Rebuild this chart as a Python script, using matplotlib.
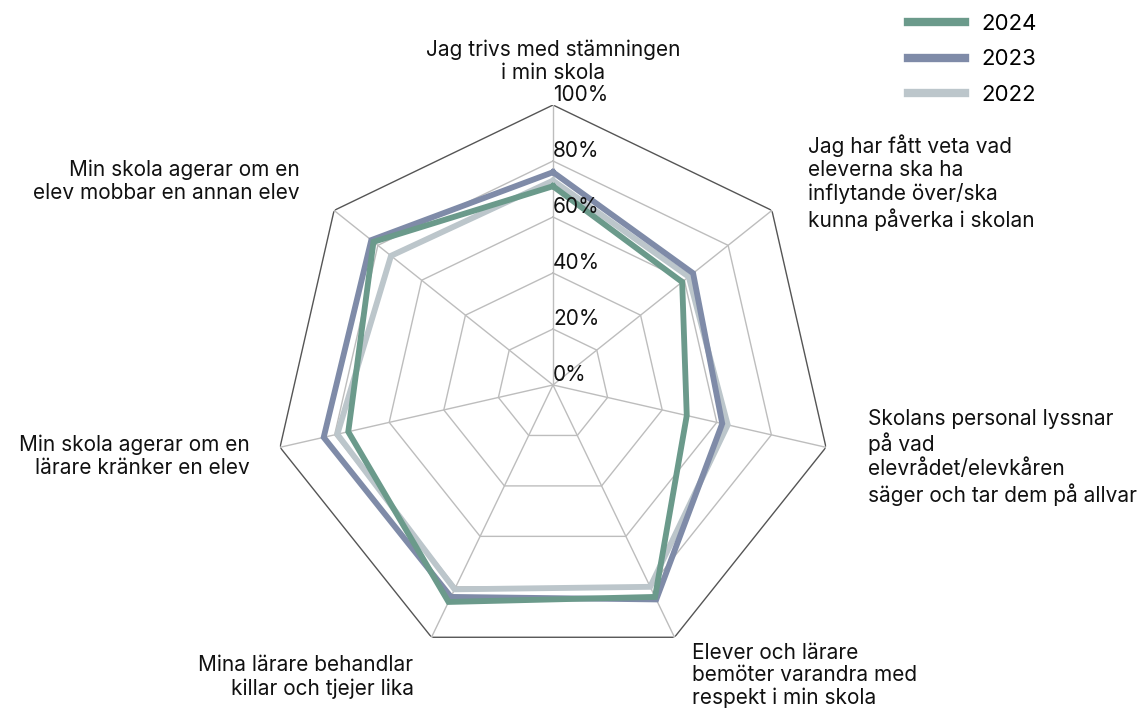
import numpy as np
import matplotlib
matplotlib.use("Agg")
import matplotlib.pyplot as plt

categories = [
    "Jag trivs med stämningen\ni min skola",
    "Jag har fått veta vad\neleverna ska ha\ninflytande över/ska\nkunna påverka i skolan",
    "Skolans personal lyssnar\npå vad\nelevrådet/elevkåren\nsäger och tar dem på allvar",
    "Elever och lärare\nbemöter varandra med\nrespekt i min skola",
    "Mina lärare behandlar\nkillar och tjejer lika",
    "Min skola agerar om en\nlärare kränker en elev",
    "Min skola agerar om en\nelev mobbar en annan elev",
]
years = ["2024", "2023", "2022"]
values_2024 = [0.71, 0.59, 0.49, 0.84, 0.86, 0.75, 0.82]
values_2023 = [0.76, 0.64, 0.62, 0.85, 0.84, 0.84, 0.83]
values_2022 = [0.73, 0.62, 0.64, 0.80, 0.81, 0.79, 0.74]
tick_levels = [0, 0.2, 0.4, 0.6, 0.8, 1.0]
tick_labels = ["0%", "20%", "40%", "60%", "80%", "100%"]

colors = {"2024": "#6b9a8b", "2023": "#7f8ba8", "2022": "#bcc6cb"}
series = {"2024": values_2024, "2023": values_2023, "2022": values_2022}

plt.rcParams["font.family"] = ["Inter", "DejaVu Sans"]

W, H = 1138, 709
fig = plt.figure(figsize=(W / 100, H / 100), dpi=100)
cx, cy, R = 553, 385, 280
ax = fig.add_axes([(cx - R) / W, (H - cy - R) / H, 2 * R / W, 2 * R / H], projection="polar")
ax.set_theta_offset(np.pi / 2)
ax.set_theta_direction(-1)
ax.set_ylim(0, 1)
ax.set_xticks([])
ax.set_yticks([])
ax.grid(False)
ax.spines["polar"].set_visible(False)
ax.patch.set_visible(False)

n = len(categories)
angles = np.linspace(0, 2 * np.pi, n, endpoint=False)
closed = np.concatenate([angles, angles[:1]])

# grid polygons
for lvl in tick_levels[1:]:
    col = "#555555" if lvl == 1.0 else "#bdbdbd"
    ax.plot(closed, [lvl] * (n + 1), color=col, lw=1.0, zorder=1)
for a in angles:
    ax.plot([a, a], [0, 1], color="#bdbdbd", lw=1.0, zorder=1)

# series
for y in ["2022", "2023", "2024"]:
    v = series[y]
    ax.plot(closed, list(v) + [v[0]], color=colors[y], lw=4.2, zorder=3,
            solid_joinstyle="miter", label=y)

# tick labels
for lvl, lab in zip(tick_levels, tick_labels):
    ax.annotate(lab, xy=(0, lvl), xytext=(0, 10), textcoords="offset pixels",
                ha="left", va="center", fontsize=15, color="#111111", zorder=4)

# category labels
offsets = [(0, 22, "center", "bottom"), (36, 28, "left", "center"),
           (42, -10, "left", "center"), (18, -38, "left", "center"),
           (-18, -40, "right", "center"), (-30, -9, "right", "center"),
           (-34, 29, "right", "center")]
spacings = [1.19, 1.19, 1.19, 1.14, 1.19, 1.19, 1.19]
for a, lab, (dx, dy, ha, va), ls in zip(angles, categories, offsets, spacings):
    ax.annotate(lab, xy=(a, 1.0), xytext=(dx, dy), textcoords="offset pixels",
                ha=ha, va=va, fontsize=15, color="#111111",
                multialignment=ha if ha != "center" else "center", linespacing=ls,
                annotation_clip=False)

handles, labels = ax.get_legend_handles_labels()
order = [labels.index(y) for y in years]
fig.legend([handles[i] for i in order], [labels[i] for i in order],
           loc="upper left", bbox_to_anchor=(908 / W, 1 - 14 / H),
           frameon=False, fontsize=16, handlelength=2.55, handletextpad=0.75,
           labelspacing=0.69, borderpad=0, borderaxespad=0)
for line in fig.legends[0].get_lines():
    line.set_linewidth(6)

fig.savefig("out.png", dpi=100)
